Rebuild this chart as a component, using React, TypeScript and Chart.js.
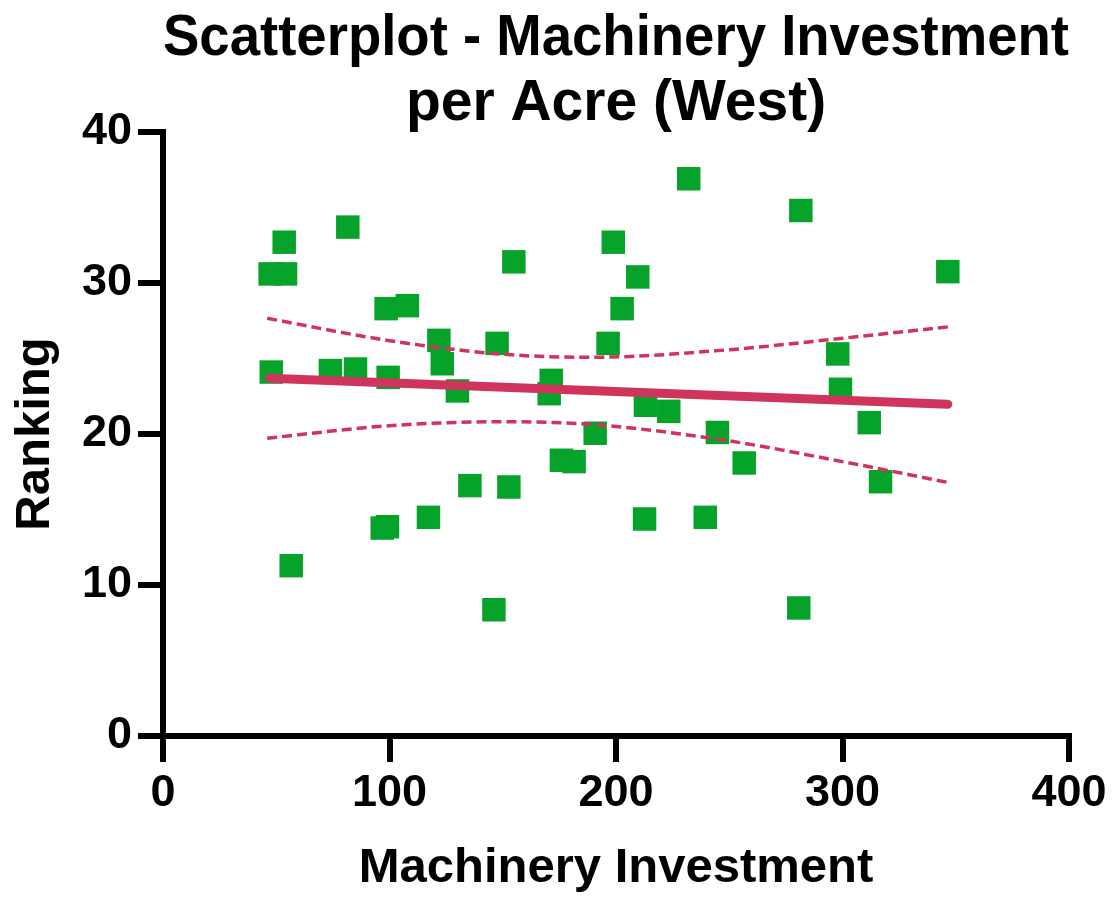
import React, { useEffect, useRef } from "react";
import { Chart, registerables } from "chart.js";

Chart.register(...registerables);

const titleLines = ["Scatterplot - Machinery Investment", "per Acre (West)"];
const xAxisTitle = "Machinery Investment";
const yAxisTitle = "Ranking";

const investment = [47.8, 47.3, 54.1, 53.5, 81.6, 73.9, 85.0, 98.5, 107.9, 99.4, 121.8, 123.3, 130.0, 147.5, 154.9, 171.4, 170.5, 198.8, 202.7, 196.5, 209.6, 232.1, 281.6, 346.5, 297.9, 299.1, 213.0, 223.3, 311.8, 190.8, 244.8, 175.9, 181.5, 256.6, 316.8, 135.5, 152.7, 117.2, 96.8, 99.1, 212.6, 239.4, 56.6, 146.1, 280.7];
const ranking = [24.1, 30.6, 30.6, 32.7, 33.7, 24.2, 24.3, 28.3, 28.5, 23.75, 26.2, 24.65, 22.85, 26.0, 31.4, 23.55, 22.67, 32.7, 28.3, 26.0, 30.4, 36.9, 34.8, 30.75, 25.3, 22.96, 21.9, 21.5, 20.75, 20.05, 20.1, 18.26, 18.17, 18.08, 16.84, 16.58, 16.49, 14.48, 13.77, 13.86, 14.37, 14.48, 11.28, 8.36, 8.48];

const fitX = [47, 346.5];
const fitY = [23.69, 21.97];

const bandX = [46, 100, 150, 190, 250, 300, 347];
const bandUpper = [27.66, 26.18, 25.28, 25.08, 25.58, 26.34, 27.1];
const bandLower = [19.72, 20.55, 20.81, 20.62, 19.54, 18.17, 16.78];

const xTicks = [0, 100, 200, 300, 400];
const yTicks = [0, 10, 20, 30, 40];

const GREEN = "#05A32A";
const RED = "#CF345C";
const FONT = "'Liberation Sans', Arial, Helvetica, sans-serif";

export default function App() {
  const ref = useRef<HTMLCanvasElement | null>(null);

  useEffect(() => {
    document.body.style.margin = "0";
    const canvas = ref.current;
    if (!canvas) return;
    const pts = investment.map((x, i) => ({ x, y: ranking[i] }));
    const fit = fitX.map((x, i) => ({ x, y: fitY[i] }));
    const up = bandX.map((x, i) => ({ x, y: bandUpper[i] }));
    const lo = bandX.map((x, i) => ({ x, y: bandLower[i] }));

    const chart = new Chart(canvas, {
      type: "scatter",
      data: {
        datasets: [
          {
            type: "line",
            data: fit,
            borderColor: RED,
            borderWidth: 9,
            borderCapStyle: "round",
            pointRadius: 0,
            fill: false,
          },
          {
            type: "line",
            data: up,
            borderColor: RED,
            borderWidth: 3.5,
            borderDash: [10, 5],
            cubicInterpolationMode: "monotone",
            pointRadius: 0,
            fill: false,
          },
          {
            type: "line",
            data: lo,
            borderColor: RED,
            borderWidth: 3.5,
            borderDash: [10, 5],
            cubicInterpolationMode: "monotone",
            pointRadius: 0,
            fill: false,
          },
          {
            data: pts,
            pointStyle: "rect",
            pointRadius: 16.6,
            pointHoverRadius: 16.6,
            backgroundColor: GREEN,
            borderColor: GREEN,
            borderWidth: 0,
          },
        ],
      },
      options: {
        responsive: false,
        animation: false,
        devicePixelRatio: 1,
        layout: { padding: { left: 0, right: 45, top: 0, bottom: 0 } },
        plugins: {
          legend: { display: false },
          tooltip: { enabled: false },
          title: {
            display: true,
            fullSize: false,
            text: titleLines,
            color: "#000",
            font: { family: FONT, size: 57, weight: "bold", lineHeight: 1.14 },
            padding: { top: 7, bottom: -5 },
          },
        },
        scales: {
          x: {
            type: "linear",
            min: 0,
            max: 400,
            afterFit: (s: any) => { s.height = 162; },
            afterBuildTicks: (s: any) => { s.ticks = xTicks.map((v) => ({ value: v })); },
            border: { display: true, color: "#000", width: 6 },
            grid: { drawOnChartArea: false, drawTicks: true, tickLength: 26, tickWidth: 6, tickColor: "#000", color: "#000", lineWidth: 6 },
            ticks: { color: "#000", padding: 5, font: { family: FONT, size: 45, weight: "bold" }, maxRotation: 0 },
            title: { display: true, text: xAxisTitle, color: "#000", font: { family: FONT, size: 49, weight: "bold", lineHeight: 1.2 }, padding: { top: 0, bottom: 0 } },
          },
          y: {
            type: "linear",
            min: 0,
            max: 40,
            afterFit: (s: any) => { s.width = 163; },
            afterBuildTicks: (s: any) => { s.ticks = yTicks.map((v) => ({ value: v })); },
            border: { display: true, color: "#000", width: 6 },
            grid: { drawOnChartArea: false, drawTicks: true, tickLength: 25, tickWidth: 6, tickColor: "#000", color: "#000", lineWidth: 6 },
            ticks: { color: "#000", padding: 6, font: { family: FONT, size: 45, weight: "bold" } },
            title: { display: true, text: yAxisTitle, color: "#000", font: { family: FONT, size: 49, weight: "bold", lineHeight: 1.2 }, padding: { top: 6, bottom: 0 } },
          },
        },
      },
    });
    return () => chart.destroy();
  }, []);

  return (
    <div style={{ width: 1114, height: 898, background: "#fff" }}>
      <canvas ref={ref} width={1114} height={898} style={{ display: "block" }} />
    </div>
  );
}
